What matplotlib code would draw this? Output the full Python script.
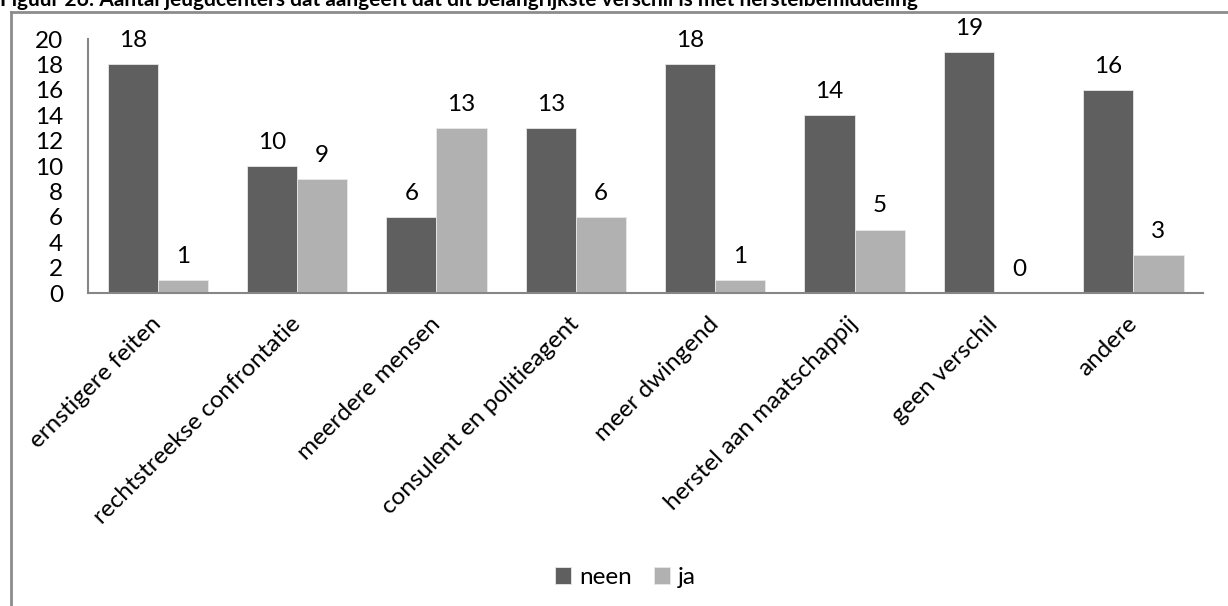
import numpy as np
import matplotlib
matplotlib.use("Agg")
import matplotlib.pyplot as plt
from matplotlib.lines import Line2D

# Categorieën en waarden
categorieen = ["ernstigere feiten", "rechtstreekse confrontatie", "meerdere mensen",
               "consulent en politieagent", "meer dwingend", "herstel aan maatschappij",
               "geen verschil", "andere"]
neen = [18, 10, 6, 13, 18, 14, 19, 16]
ja = [1, 9, 13, 6, 1, 5, 0, 3]
yticks = list(range(0, 21, 2))

plt.rcParams['font.family'] = ['Lato', 'DejaVu Sans']
fs = 17.5

fig = plt.figure(figsize=(12.28, 6.06), dpi=100)
ax = fig.add_axes([0.0717, 0.5165, 0.908, 0.4191])

x = np.arange(len(categorieen))
w = 0.36
b1 = ax.bar(x - w / 2, neen, w, color="#5f5f5f", edgecolor="#e8e8e8", linewidth=0.6, label="neen")
b2 = ax.bar(x + w / 2, ja, w, color="#b1b1b1", edgecolor="#e8e8e8", linewidth=0.6, label="ja")

for bars in (b1, b2):
    for r in bars:
        ax.annotate(str(int(r.get_height())), (r.get_x() + r.get_width() / 2, r.get_height()),
                    xytext=(0, 17), textcoords="offset points", ha="center", va="center",
                    fontsize=fs)

ax.set_xlim(-0.5, len(categorieen) - 0.5)
ax.set_ylim(0, 20)
ax.set_yticks(yticks)
ax.tick_params(axis="y", length=0, pad=18, labelsize=fs)
ax.tick_params(axis="x", length=0, pad=20)
ax.set_xticks(x)
ax.set_xticklabels(categorieen, rotation=45, ha="right", va="center",
                   rotation_mode="anchor", fontsize=fs)
for s in ("top", "right"):
    ax.spines[s].set_visible(False)
for s in ("left", "bottom"):
    ax.spines[s].set_color("#868686")
    ax.spines[s].set_linewidth(1.5)

ax.legend(handles=[b1, b2], loc="center", bbox_to_anchor=(0.482, -1.12), ncol=2,
          frameon=False, fontsize=fs, handlelength=0.65, handleheight=0.65,
          handletextpad=0.35, columnspacing=0.9)

# kader rond grafiek
fig.add_artist(Line2D([10.5 / 1228, 10.5 / 1228], [0, 1 - 11.5 / 606], color="#8c8c8c", lw=2))
fig.add_artist(Line2D([10.5 / 1228, 1], [1 - 11.5 / 606, 1 - 11.5 / 606], color="#8c8c8c", lw=2))

fig.text(0.0, 1 - 6 / 606, "Figuur 26: Aantal jeugdcenters dat aangeeft dat dit belangrijkste verschil is met herstelbemiddeling",
         fontsize=15, fontweight="bold", ha="left", va="baseline")

fig.savefig("out.png", dpi=100)
